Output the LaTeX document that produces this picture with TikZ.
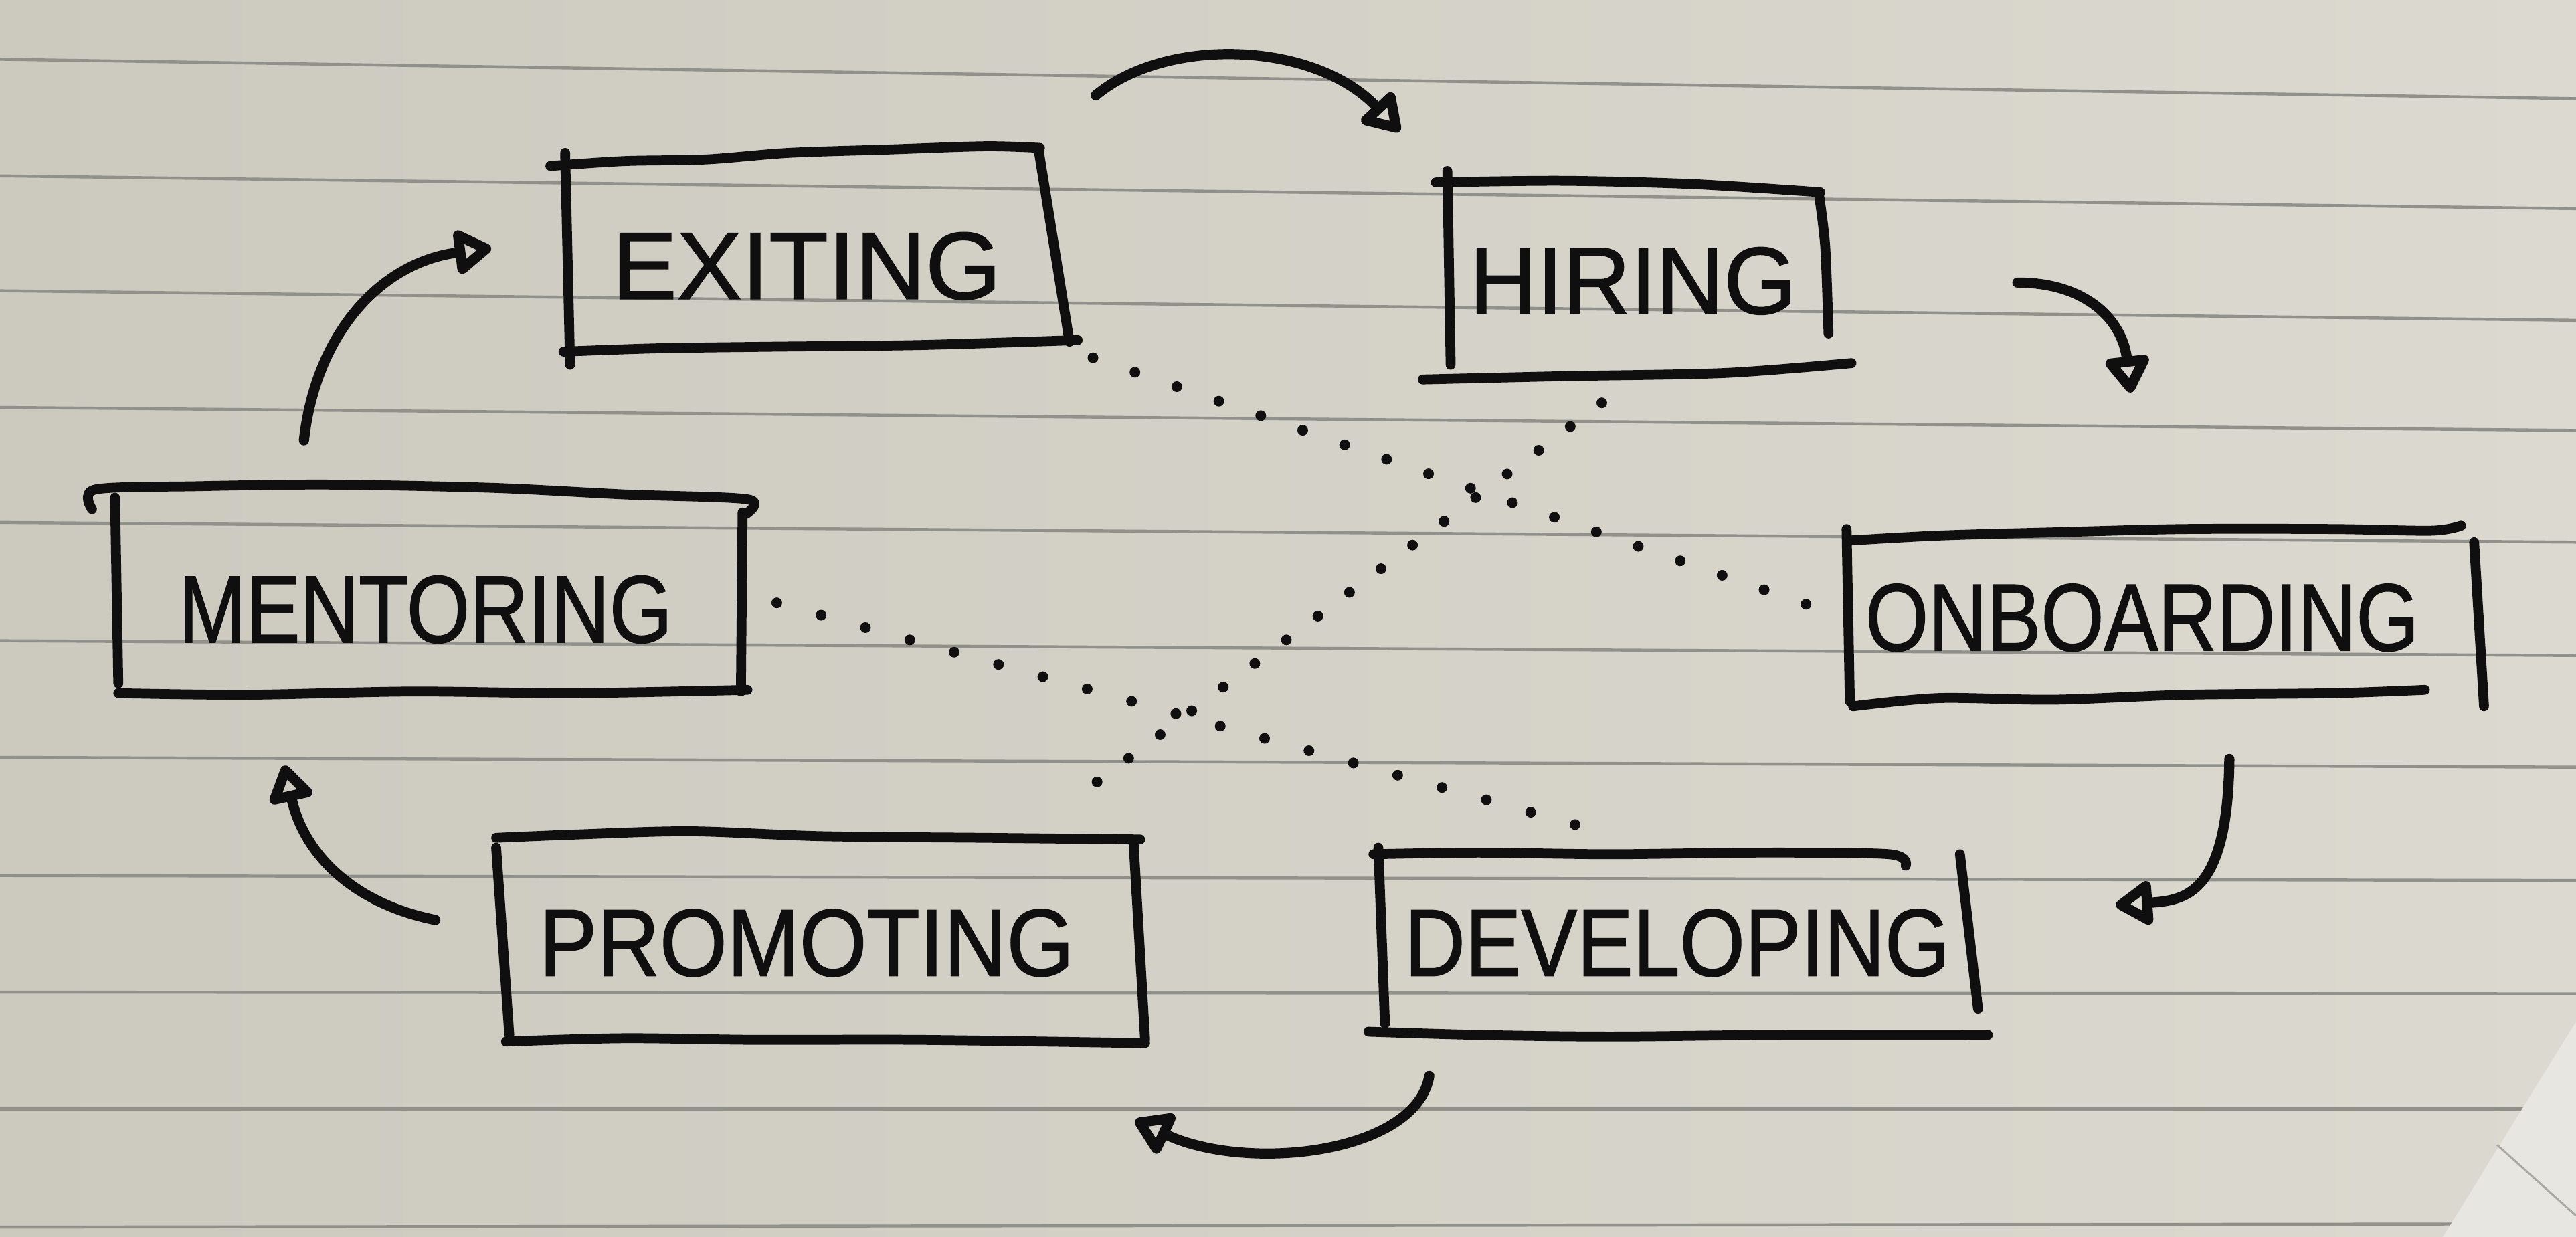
\documentclass[tikz,border=0pt]{standalone}
\usepackage{fontspec}
\usepackage{graphicx}
\setmainfont{Liberation Sans}[FakeBold=1.2]
\usetikzlibrary{arrows.meta}
\definecolor{paperL}{RGB}{204,201,191}
\definecolor{paperR}{RGB}{220,217,208}
\definecolor{sheet}{RGB}{232,230,224}
\definecolor{rule}{RGB}{145,145,140}
\definecolor{ink}{RGB}{15,15,15}
\begin{document}
\begin{tikzpicture}[x=0.01cm,y=-0.01cm,
  pen/.style={draw=ink,line width=0.06cm,line cap=round,line join=round},
  flow/.style={draw=ink,line width=0.062cm,line cap=round,line join=round,-{Triangle[open,round,length=0.25cm,width=0.3cm]}},
  dots/.style={draw=ink,line width=0.065cm,line cap=round,dash pattern=on 0pt off 0.27cm},
  frame/.style={draw=none,inner sep=0pt,rectangle},
  label/.style={text=ink,font=\fontsize{16.5}{18}\selectfont,inner sep=0pt},
  ruling/.style={draw=rule,line width=0.018cm}]

\useasboundingbox (0,0) rectangle (1568,753);
\shade[left color=paperL,right color=paperR] (0,0) rectangle (1568,753);

% ruled paper
\foreach \a/\b in {36/60,107/127,177/195,248/262,318/330,390/399,461/467,533/536,604/605,675/675,747/745}
  \draw[ruling] (0,\a) -- (1568,\b);

% second sheet in the corner
\fill[sheet] (1568,622) -- (1487,753) -- (1568,753) -- cycle;
\draw[draw=rule!80,line width=0.012cm] (1520,697) -- (1568,740);

% box frames (named nodes) and labels
\node[frame,minimum width=3.05cm,minimum height=1.2cm] (exiting) at (497,152) {};
\node[frame,minimum width=2.3cm,minimum height=1.15cm] (hiring) at (995,168) {};
\node[frame,minimum width=3.85cm,minimum height=1.02cm] (onboarding) at (1315,374) {};
\node[frame,minimum width=3.82cm,minimum height=1.2cm] (mentoring) at (261,361) {};
\node[frame,minimum width=3.9cm,minimum height=1.22cm] (promoting) at (500,573) {};
\node[frame,minimum width=3.6cm,minimum height=1.1cm] (developing) at (1020,574) {};

\node[label] (exitingtext) at (491,162) {\scalebox{1.02}[1]{EXITING}};
\node[label] (hiringtext) at (994,171) {\scalebox{0.98}[1]{HIRING}};
\node[label] (onboardingtext) at (1304,376) {\scalebox{0.85}[1]{ONBOARDING}};
\node[label] (mentoringtext) at (259,371) {\scalebox{0.85}[1]{MENTORING}};
\node[label] (promotingtext) at (491,574) {\scalebox{0.91}[1]{PROMOTING}};
\node[label] (developingtext) at (1021,574) {\scalebox{0.88}[1]{DEVELOPING}};

% hand-drawn box strokes
% EXITING
\draw[pen] plot[smooth] coordinates {(335,101) (380,98) (430,97) (480,93) (540,91) (600,89) (633,90)};
\draw[pen] (344,93) -- (347,222);
\draw[pen] (632,90) -- (651,208);
\draw[pen] plot[smooth] coordinates {(343,214) (400,212) (470,211) (560,210) (656,207)};
% HIRING
\draw[pen] plot[smooth] coordinates {(874,111) (950,110) (1030,112) (1108,117)};
\draw[pen] (881,104) -- (883,222);
\draw[pen] plot[smooth] coordinates {(1107,117) (1111,150) (1113,203)};
\draw[pen] plot[smooth] coordinates {(866,231) (950,229) (1050,227) (1127,221)};
% ONBOARDING
\draw[pen] plot[smooth] coordinates {(1126,329) (1180,326) (1250,324) (1330,322) (1420,322) (1480,323) (1498,320)};
\draw[pen] (1124,322) -- (1126,427);
\draw[pen] (1506,330) -- (1512,430);
\draw[pen] plot[smooth] coordinates {(1128,430) (1180,425) (1250,426) (1330,423) (1420,422) (1476,420)};
% MENTORING
\draw[pen] plot[smooth] coordinates {(56,310) (58,298) (120,296) (200,295) (300,297) (380,301) (455,304) (454,313)};
\draw[pen] (70,303) -- (72,416);
\draw[pen] (452,312) -- (451,421);
\draw[pen] plot[smooth] coordinates {(72,422) (150,423) (250,421) (350,422) (455,420)};
% PROMOTING
\draw[pen] plot[smooth] coordinates {(302,510) (350,508) (420,506) (500,509) (600,510) (694,511)};
\draw[pen] (302,516) -- (310,630);
\draw[pen] (690,513) -- (697,633);
\draw[pen] plot[smooth] coordinates {(308,634) (380,632) (460,633) (560,633) (697,635)};
% DEVELOPING
\draw[pen] plot[smooth] coordinates {(836,520) (900,519) (980,520) (1070,519) (1150,520) (1160,527)};
\draw[pen] (839,516) -- (843,623);
\draw[pen] (1193,520) -- (1204,614);
\draw[pen] plot[smooth] coordinates {(833,628) (900,630) (980,631) (1080,630) (1210,630)};

% cycle arrows
\coordinate (a1s) at (667,58);   \coordinate (a1e) at (852,80);
\coordinate (a2s) at (1228,172); \coordinate (a2e) at (1297,239);
\coordinate (a3s) at (1357,462); \coordinate (a3e) at (1288,551);
\coordinate (a4s) at (870,655);  \coordinate (a4e) at (691,682);
\coordinate (a5s) at (265,560);  \coordinate (a5e) at (173,466);
\coordinate (a6s) at (185,268);  \coordinate (a6e) at (299,151);

\draw[flow] (a1s) .. controls (710,22) and (800,25) .. (a1e);
\draw[flow] (a2s) .. controls (1270,172) and (1292,195) .. (a2e);
\draw[flow] (a3s) .. controls (1356,545) and (1330,548) .. (a3e);
\draw[flow] (a4s) .. controls (862,702) and (760,714) .. (a4e);
\draw[flow] (a5s) .. controls (215,550) and (185,520) .. (a5e);
\draw[flow] (a6s) .. controls (192,205) and (230,160) .. (a6e);

% dotted cross links
\draw[dots] ([shift={(15,5)}]exiting.south east) -- ([shift={(-22,-6)}]onboarding.west);
\draw[dots,dash pattern=on 0pt off 0.24cm] ([shift={(-20,19)}]hiring.south) -- ([shift={(-43,-24)}]promoting.north east);
\draw[dots,dash pattern=on 0pt off 0.28cm] ([shift={(20,6)}]mentoring.east) -- ([shift={(-60,-16)}]developing.north);
\end{tikzpicture}
\end{document}
